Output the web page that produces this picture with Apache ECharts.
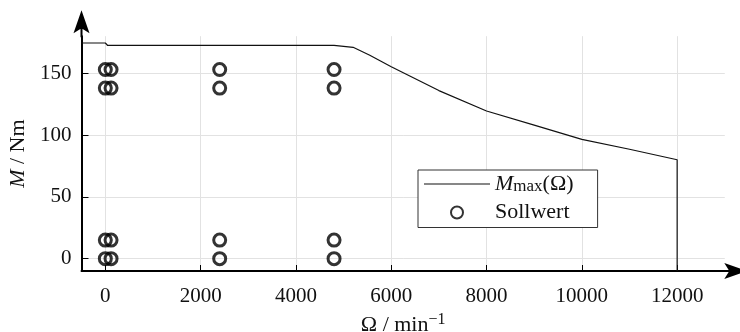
<!DOCTYPE html>
<html>
<head>
<meta charset="utf-8">
<script src="https://cdn.jsdelivr.net/npm/echarts@6/dist/echarts.min.js"></script>
<style>
html,body{margin:0;padding:0;background:#fff;}
#chart{width:740px;height:332px;}
</style>
</head>
<body>
<div id="chart"></div>
<script>
// Curve M_max(Omega)
const omegaCurve = [-500, 0, 50, 4800, 5200, 5550, 6000, 7000, 8000, 9000, 10000, 11000, 12000, 12000];
const mMaxCurve  = [174.5, 174.5, 172.5, 172.5, 171, 164.6, 155.3, 136, 119.5, 108, 96.5, 88.5, 80, -10];

// Sollwert points [Omega, M]
const sollwertPoints = [
  [0, 0], [0, 15], [0, 138], [0, 153],
  [120, 0], [120, 15], [120, 138], [120, 153],
  [2400, 0], [2400, 15], [2400, 138], [2400, 153],
  [4800, 0], [4800, 15], [4800, 138], [4800, 153]
];

const xTickLabels = ['0', '2000', '4000', '6000', '8000', '10000', '12000'];
const yTickLabels = ['0', '50', '100', '150'];

const FONT = 'Liberation Serif';
const TXT = '#111';
const arrowPath = 'path://M0,0 L8,23 L0,18 L-8,23 Z M-1,17 L1,17 L1,27 L-1,27 Z';
const lineIcon = 'path://M0,0 L66,0 L66,1.2 L0,1.2 Z';

const chart = echarts.init(document.getElementById('chart'), null, {renderer: 'canvas'});
chart.setOption({
  backgroundColor: '#fff',
  animation: false,
  grid: {left: 81.5, right: 15.2, top: 36.2, bottom: 61, containLabel: false, outerBoundsMode: 'none'},
  xAxis: {
    type: 'value', min: -500, max: 13000, splitNumber: 7,
    name: '{n|Ω / min}{sup|−1}', nameLocation: 'middle', nameGap: 30,
    nameTextStyle: {
      fontFamily: FONT, fontSize: 22, color: TXT,
      rich: {
        n: {fontFamily: FONT, fontSize: 22, color: TXT, lineHeight: 26},
        sup: {fontFamily: FONT, fontSize: 16, color: TXT, lineHeight: 12, verticalAlign: 'top'}
      }
    },
    axisLine: {show: true, onZero: false, lineStyle: {color: '#000', width: 2},
      symbol: ['none', arrowPath], symbolSize: [16, 27], symbolOffset: [0, 9]},
    axisTick: {show: true, inside: true, length: 6, lineStyle: {color: '#000', width: 1}},
    axisLabel: {
      fontFamily: FONT, fontSize: 21, color: TXT, margin: 15,
      showMinLabel: false, showMaxLabel: false,
      formatter: v => xTickLabels.includes(String(v)) ? String(v) : ''
    },
    splitLine: {show: true, showMinLine: false, showMaxLine: false, lineStyle: {color: '#e2e2e2', width: 1}}
  },
  yAxis: {
    type: 'value', min: -10, max: 180, splitNumber: 4,
    name: '{i|M} / Nm', nameLocation: 'middle', nameGap: 52,
    nameTextStyle: {
      fontFamily: FONT, fontSize: 22, color: TXT,
      rich: {
        i: {fontFamily: FONT, fontSize: 22, fontStyle: 'italic', color: TXT},
      }
    },
    axisLine: {show: true, onZero: false, lineStyle: {color: '#000', width: 2},
      symbol: ['none', arrowPath], symbolSize: [16, 27], symbolOffset: [0, 12.5]},
    axisTick: {show: true, inside: true, length: 7, lineStyle: {color: '#000', width: 1}},
    axisLabel: {
      fontFamily: FONT, fontSize: 21, color: TXT, margin: 10,
      showMinLabel: false, showMaxLabel: false,
      formatter: v => yTickLabels.includes(String(v)) ? String(v) : ''
    },
    splitLine: {show: true, showMinLine: false, showMaxLine: false, lineStyle: {color: '#e2e2e2', width: 1}}
  },
  legend: {
    orient: 'vertical', left: 418, top: 170,
    padding: [3, 24, 4, 6], itemGap: 6, itemWidth: 66, itemHeight: 12,
    borderColor: '#333', borderWidth: 1, backgroundColor: '#fff',
    align: 'left',
    data: [{name: 'Mmax', icon: lineIcon}, {name: 'Sollwert'}],
    formatter: name => name === 'Mmax' ? '{i|M}{sub|max}{n|(Ω)}' : '{n|Sollwert}',
    textStyle: {
      fontFamily: FONT, fontSize: 22, color: TXT,
      rich: {
        i: {fontFamily: FONT, fontSize: 22, fontStyle: 'italic', color: TXT, lineHeight: 23},
        sub: {fontFamily: FONT, fontSize: 17, color: TXT, lineHeight: 16, verticalAlign: 'bottom'},
        n: {fontFamily: FONT, fontSize: 22, color: TXT, lineHeight: 23}
      }
    }
  },
  series: [
    {
      name: 'Mmax', type: 'line', showSymbol: false, symbol: 'none',
      data: omegaCurve.map((w, i) => [w, mMaxCurve[i]]),
      lineStyle: {color: '#111', width: 1.2}, itemStyle: {color: '#111'},
      z: 3
    },
    {
      name: 'Sollwert', type: 'scatter', symbol: 'circle', symbolSize: 12,
      data: sollwertPoints,
      itemStyle: {color: 'rgba(0,0,0,0)', borderColor: '#000', borderWidth: 3},
      z: 4
    }
  ]
});
</script>
</body>
</html>
